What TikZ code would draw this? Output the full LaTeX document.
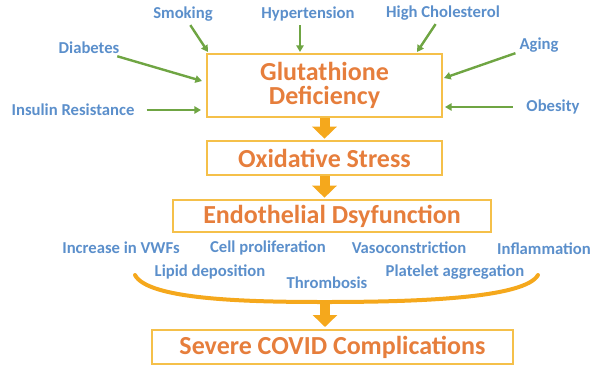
\documentclass[tikz,border=0pt]{standalone}
\usepackage{fontspec}
\setmainfont{Carlito}
\usetikzlibrary{arrows.meta}
\definecolor{factorblue}{HTML}{5B8FCB}
\definecolor{stageorange}{HTML}{E67E3C}
\definecolor{stageline}{HTML}{F5C04A}
\definecolor{flowgold}{HTML}{F5A81C}
\definecolor{riskgreen}{HTML}{6FA543}
\tikzset{
    stage/.style={
        draw=stageline,
        line width=1.5pt,
        text=stageorange,
        font=\fontsize{19.5}{18}\selectfont\bfseries,
        align=center,
        inner sep=0pt
    },
    factor/.style={
        text=factorblue,
        font=\fontsize{12.5}{14}\selectfont\bfseries,
        inner sep=1pt
    },
    risk/.style={
        draw=riskgreen,
        line width=1.8pt,
        -{Triangle[length=5pt,width=5.5pt]},
        shorten <=2pt
    },
    flow/.style={
        draw=flowgold,
        line width=7.5pt,
        -{Triangle[length=9pt,width=18pt]}
    }
}

\begin{document}
\begin{tikzpicture}[x=0.75pt, y=-0.75pt]
                \useasboundingbox (0,0) rectangle (600,369);

                % stages
                \node[stage, minimum width=176.25pt, minimum height=47.25pt] (gsh) at (324.5,85.5) {Glutathione\\Deficiency};
                \node[stage, minimum width=176.25pt, minimum height=25.5pt] (ox) at (324.5,158) {Oxidative Stress};
                \node[stage, minimum width=238.5pt, minimum height=24pt] (endo) at (332,216) {Endothelial Dsyfunction};
                \node[stage, minimum width=270.75pt, minimum height=25.5pt] (sev) at (332.5,347) {Severe COVID Complications};

                % risk factors
                \node[factor] (smk) at (183,14) {Smoking};
                \node[factor] (hyp) at (308,14) {Hypertension};
                \node[factor] (chol) at (443,13) {High Cholesterol};
                \node[factor] (diab) at (89,48) {Diabetes};
                \node[factor] (age) at (539,45) {Aging};
                \node[factor] (ins) at (73,110) {Insulin Resistance};
                \node[factor] (obe) at (553,107) {Obesity};

                \coordinate (e-smk) at (208,52);
                \coordinate (e-hyp) at (300,52);
                \coordinate (e-chol) at (417,52);
                \coordinate (e-diab) at (202,81);
                \coordinate (e-age) at (444,78);
                \coordinate (e-ins) at (201,110);
                \coordinate (e-obe) at (445,107);

                \draw[risk] (smk) -- (e-smk);
                \draw[risk] (hyp.south -| e-hyp) -- (e-hyp);
                \draw[risk] (chol) -- (e-chol);
                \draw[risk] (diab) -- (e-diab);
                \draw[risk] (age) -- (e-age);
                \draw[risk, shorten <=8pt] (ins) -- (e-ins);
                \draw[risk, shorten <=9pt] (obe) -- (e-obe);

                % effects
                \node[factor] (vwf) at (121,248) {Increase in VWFs};
                \node[factor] (prol) at (268,248) {Cell proliferation};
                \node[factor] (vaso) at (409,248) {Vasoconstriction};
                \node[factor] (infl) at (544,249) {Inflammation};
                \node[factor] (lip) at (210,272) {Lipid deposition};
                \node[factor] (thr) at (327,283) {Thrombosis};
                \node[factor] (plt) at (455,272) {Platelet aggregation};

                \coordinate (arcl) at (135,275);
                \coordinate (arcb) at (325,302);
                \coordinate (arcr) at (538,275);
                \draw[flowgold, line width=3pt, line cap=round]
                    (arcl) .. controls (148,300) and (250,302) .. (arcb)
                    .. controls (420,302) and (525,298) .. (arcr);

                % flow
                \draw[flow, shorten >=1pt] (gsh.south) -- (gsh.south |- ox.north);
                \draw[flow, shorten >=1pt] (ox.south) -- (ox.south |- endo.north);
                \draw[flow, shorten >=1.5pt] (arcb) -- (arcb |- sev.north);
            \end{tikzpicture}
\end{document}
